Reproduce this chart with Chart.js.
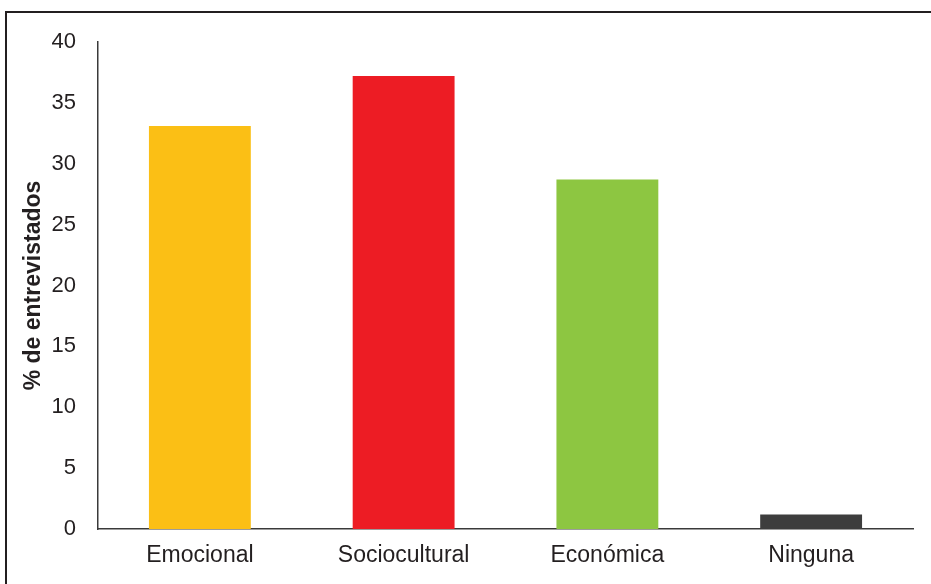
<!DOCTYPE html>
<html>
<head>
<meta charset="utf-8">
<script src="https://cdn.jsdelivr.net/npm/chart.js@4/dist/chart.umd.min.js"></script>
<style>
  html, body { margin: 0; padding: 0; background: #fff; overflow: hidden; }
  #wrap { position: relative; width: 931px; height: 584px; }
  #frame { position: absolute; left: 5px; top: 11px; width: 960px; height: 600px;
           border-left: 2px solid #231f20; border-top: 2px solid #231f20; }
  canvas { position: absolute; left: 0; top: 0; }
</style>
</head>
<body>
<div id="wrap">
  <div id="frame"></div>
  <canvas id="barChart" width="931" height="584"></canvas>
</div>
<script>
const categories = ["Emocional", "Sociocultural", "Económica", "Ninguna"];
const percentages = [33.1, 37.2, 28.7, 1.2];
const barColors = ["#fbbf15", "#ed1c24", "#8dc641", "#3d3d3d"];
const yTicks = [0, 5, 10, 15, 20, 25, 30, 35, 40];

const textColor = "#231f20";
const axisColor = "#3a3a3a";

const ctx = document.getElementById("barChart").getContext("2d");
new Chart(ctx, {
  type: "bar",
  data: {
    labels: categories,
    datasets: [
      {
        data: percentages,
        backgroundColor: barColors,
        borderWidth: 0,
        barPercentage: 0.5,
        categoryPercentage: 1.0,
      },
    ],
  },
  options: {
    responsive: false,
    animation: false,
    layout: { padding: { left: 20, top: 42, right: 18, bottom: 0 } },
    plugins: {
      legend: { display: false },
      tooltip: { enabled: false },
    },
    scales: {
      x: {
        grid: { display: false, drawTicks: false },
        border: { display: true, color: axisColor, width: 1.5 },
        ticks: {
          color: textColor,
          font: { family: "Liberation Sans, Arial", size: 23 },
          padding: 13,
        },
        afterFit: (scale) => { scale.height = 55; },
      },
      y: {
        min: 0,
        max: 40,
        afterBuildTicks: (scale) => { scale.ticks = yTicks.map((v) => ({ value: v })); },
        grid: { display: false, drawTicks: false },
        border: { display: true, color: axisColor, width: 1.5 },
        ticks: {
          color: textColor,
          font: { family: "Liberation Sans, Arial", size: 22 },
          padding: 22,
        },
        title: {
          display: true,
          text: "% de entrevistados",
          color: textColor,
          font: { family: "Liberation Sans, Arial", size: 23, weight: "bold" },
          padding: { top: 0, bottom: 0 },
        },
        afterFit: (scale) => { scale.width = 78; },
      },
    },
  },
});
</script>
</body>
</html>
